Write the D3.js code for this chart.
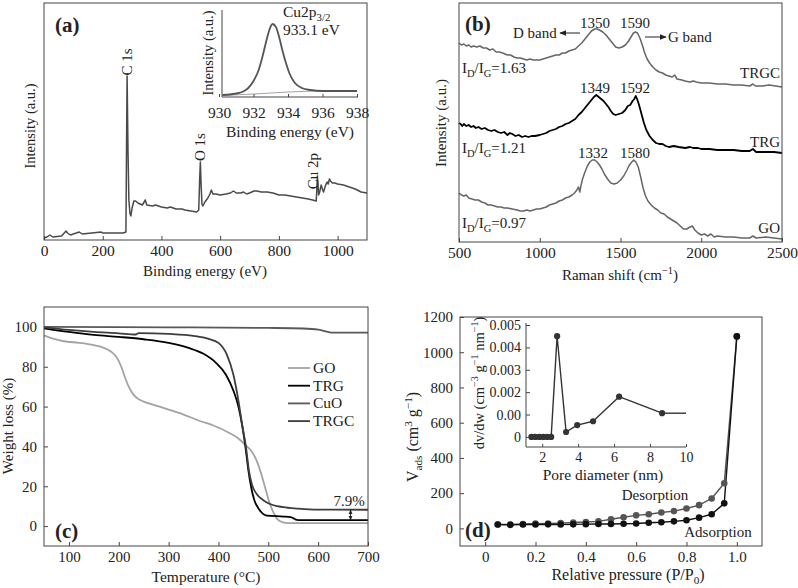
<!DOCTYPE html>
<html><head><meta charset="utf-8">
<script src="https://cdn.jsdelivr.net/npm/d3@7"></script>
<style>
body{margin:0;background:#fff}
svg text{font-family:'Liberation Serif','Times New Roman','DejaVu Serif',serif !important;fill:#222}
</style>
</head><body>
<svg id="c" width="798" height="588" font-family="'Liberation Serif','Times New Roman','DejaVu Serif',serif"></svg>
<script>
// ---------------- DATA ----------------
// (a) XPS survey: [binding energy eV, intensity a.u.]
const xpsSurvey = [[0,2],[10,3],[20,5],[30,3],[60,4],[75,9],[80,7],[90,5],[120,8],[130,6],[195,8],[200,7],[270,7],[279,8],[281,90],[283,164],[286,90],[289,40],[293,26],[296,24],[300,32],[306,39],[312,39],[320,37],[335,35],[345,40],[350,35],[370,34],[380,35],[400,33],[420,32],[430,33],[450,31],[470,31],[480,30],[500,29],[520,28],[527,30],[530,60],[532.5,78],[535,55],[538,36],[541,34],[548,38],[558,42],[565,46],[570,50],[575,46],[585,46],[600,45],[620,46],[635,47],[645,49],[655,47],[670,47],[680,48],[690,46],[700,47],[715,49],[725,49],[740,48],[760,48],[780,47],[800,45],[820,45],[840,44],[860,43],[880,42],[900,41],[915,40],[927,39],[929,50],[931,63],[933,58],[935,45],[938,47],[944,55],[948,51],[952,48],[958,54],[964,58],[968,56],[972,61],[976,59],[982,57],[990,57],[1000,56],[1020,55],[1040,53],[1060,51],[1080,48],[1100,47]];
const xpsTicks = [0,200,400,600,800,1000];
// (a) inset Cu2p3/2
const cuPeak = [[930.2,2],[930.6,2.5],[931.0,3.5],[931.4,5.5],[931.7,9],[932.0,16],[932.3,27],[932.5,39],[932.7,53],[932.9,66],[933.1,73],[933.3,70],[933.5,59],[933.7,45],[933.9,33],[934.1,23],[934.4,14],[934.8,9],[935.3,7],[936,6],[937,6],[938,6]];
const cuBackground = [[930.2,1.5],[932,3],[934,5],[935.5,6],[938,6]];
const cuTicks = [930,932,934,936,938];
// (b) Raman spectra (offset, a.u.): [Raman shift cm-1, intensity]
const ramanTRGC = [[500,199],[515,197],[530,198],[545,196],[560,197],[575,195],[590,196],[610,195],[630,196],[650,194],[670,194],[690,192],[710,193],[730,190],[750,190],[770,189],[800,187],[820,187],[840,185],[860,184],[880,184],[900,183],[920,182],[940,183],[960,182],[980,182],[1000,182],[1020,183],[1040,184],[1060,185],[1080,186],[1100,187],[1120,187],[1140,189],[1160,189],[1180,191],[1200,192],[1220,193],[1240,196],[1260,199],[1280,203],[1300,207],[1320,211],[1340,213],[1355,213],[1370,212],[1390,210],[1410,207],[1430,203],[1450,199],[1470,195],[1490,194],[1510,195],[1530,197],[1550,201],[1565,205],[1580,209],[1592,210],[1605,209],[1620,204],[1635,197],[1650,189],[1665,183],[1680,179],[1700,175],[1720,172],[1740,170],[1760,169],[1780,167],[1800,166],[1820,165],[1835,167],[1850,163],[1880,162],[1900,161],[1930,160],[1950,161],[1970,160],[2000,159],[2050,159],[2100,158],[2150,158],[2200,157],[2250,157],[2300,156],[2320,158],[2335,156],[2380,156],[2420,157],[2460,156],[2500,155]];
const ramanTRG = [[500,119],[510,118],[520,116],[530,118],[545,116],[560,117],[575,115],[590,116],[605,114],[620,115],[640,113],[660,114],[680,112],[700,111],[720,112],[740,110],[760,109],[780,110],[800,107],[815,109],[830,108],[850,106],[870,107],[890,105],[910,106],[930,105],[950,106],[970,106],[1000,107],[1020,108],[1040,109],[1060,111],[1080,112],[1100,113],[1120,115],[1140,116],[1160,118],[1180,119],[1200,121],[1220,123],[1240,127],[1260,130],[1280,134],[1300,138],[1320,142],[1335,145],[1350,147],[1365,145],[1380,143],[1395,141],[1410,138],[1425,135],[1440,131],[1455,128],[1470,127],[1490,128],[1510,129],[1530,132],[1545,136],[1560,137],[1575,141],[1585,143],[1595,146],[1605,142],[1615,137],[1630,128],[1645,119],[1660,112],[1680,106],[1700,102],[1720,99],[1740,98],[1760,98],[1780,96],[1800,95],[1830,96],[1860,95],[1900,94],[1930,95],[1950,94],[1980,94],[2000,93],[2050,93],[2100,92],[2150,92],[2200,92],[2250,91],[2300,91],[2320,93],[2340,90],[2400,90],[2450,90],[2500,89]];
const ramanGO = [[500,49],[515,47],[530,46],[545,47],[560,44],[580,43],[600,42],[620,42],[640,40],[660,39],[680,37],[700,37],[720,36],[740,35],[760,35],[780,34],[800,34],[830,33],[860,32],[880,31],[900,31],[920,32],[940,31],[960,32],[980,33],[1000,33],[1020,34],[1040,35],[1060,37],[1080,38],[1100,39],[1120,41],[1140,42],[1160,44],[1180,45],[1200,47],[1215,49],[1230,52],[1240,55],[1248,50],[1256,57],[1265,63],[1280,70],[1295,76],[1310,80],[1325,82],[1340,82],[1355,80],[1370,77],[1385,73],[1400,68],[1420,63],[1440,59],[1460,58],[1480,59],[1500,62],[1520,66],[1540,72],[1555,77],[1570,80],[1582,82],[1595,80],[1610,75],[1625,65],[1640,54],[1655,46],[1670,41],[1690,37],[1710,34],[1730,32],[1750,29],[1770,28],[1790,25],[1810,23],[1830,21],[1850,19],[1870,16],[1890,13],[1910,13],[1930,15],[1945,16],[1960,12],[1980,9],[2000,7],[2020,8],[2040,6],[2060,8],[2080,5],[2100,6],[2150,5],[2200,5],[2250,4],[2300,4],[2320,6],[2340,4],[2400,5],[2450,4],[2500,3]];
const ramanTicks = [500,1000,1500,2000,2500];
// (c) TGA: [temperature C, weight %]
const tgaGO = [[50,95.8],[70,94],[90,92.8],[120,92],[150,90.8],[170,89.5],[185,87.5],[195,85],[205,80],[212,75],[220,70],[228,66.5],[238,64],[250,62.5],[275,60.5],[300,58.5],[330,56],[360,53],[390,50.5],[420,47],[440,44],[455,40.5],[468,37],[478,32],[486,26],[494,19],[502,12],[510,7],[518,3.5],[528,2],[540,1.5],[700,1.5]];
const tgaTRG = [[50,99.3],[100,97.5],[150,96],[200,95],[250,93.8],[300,92],[340,89.5],[370,86.5],[395,82],[415,76],[430,68],[440,60],[448,50],[455,38],[460,28],[466,19],[472,13],[480,9],[490,6],[497,5.3],[530,4.8],[545,4.5],[555,3.3],[565,3],[700,3]];
const tgaCuO = [[50,100],[300,99.8],[500,99.5],[570,99.2],[600,98.6],[615,97.8],[630,97.1],[700,97.1]];
const tgaTRGC = [[50,99.8],[100,98.5],[150,97.5],[200,96.8],[234,96.2],[240,96.9],[300,96.5],[350,95.5],[380,94],[400,92],[417,86],[430,76],[440,63],[448,50],[455,40],[461,28],[467,21],[477,16],[490,13],[500,11.5],[530,9.5],[560,8.8],[600,8.3],[700,8.2]];
const tgaNames = ["GO","TRG","CuO","TRGC"];
const tgaXTicks = [100,200,300,400,500,600,700];
const tgaYTicks = [0,20,40,60,80,100];
// (d) N2 isotherm: relative pressure, adsorbed volume
const relP = [0.05,0.1,0.15,0.2,0.25,0.3,0.35,0.4,0.45,0.5,0.55,0.6,0.65,0.7,0.75,0.8,0.85,0.9,0.95,1.0];
const adsorption = [22,20,22,22,23,22,23,24,25,25,26,28,32,35,40,46,61,80,142,1090];
const desorption = [22,22,25,27,28,30,33,36,40,52,63,74,80,90,98,113,132,170,256,1090];
const isoXTicks = [0,0.2,0.4,0.6,0.8,1.0];
const isoXLabels = ["0","0.2","0.4","0.6","0.8","1.0"];
const isoYTicks = [0,200,400,600,800,1000,1200];
// (d) inset pore size distribution
const poreD = [1.4,1.62,1.84,2.06,2.28,2.5,2.83,3.33,3.95,4.83,6.28,8.67];
const poreDv = [0,0,0,0,0,0,0.0045,0.00022,0.00053,0.0007,0.0018,0.00106];
const poreTail = [[8.67,0.00106],[10,0.00106]];
const poreXTicks = [2,4,6,8,10];
const poreYTicks = [0,0.001,0.002,0.003,0.004,0.005];
const poreYLabels = ["0","0.00","0.002","0.003","0.004","0.005"];

// ---------------- HELPERS ----------------
const FONT = "'Liberation Serif','Times New Roman','DejaVu Serif',serif";
const svg = d3.select('#c');
const FR = '#444';
function frame(x, y){
  const [x0,x1]=x.range(), [y0,y1]=y.range();
  svg.append('rect').attr('x',x0).attr('y',y1).attr('width',x1-x0).attr('height',y0-y1)
    .attr('fill','none').attr('stroke',FR).attr('stroke-width',1);
}
function styleAxis(s, fs){
  s.select('.domain').remove();
  s.attr('font-family',FONT).attr('font-size',fs);
  s.selectAll('text').attr('font-size',fs).attr('fill','#222').attr('font-family',FONT);
  s.selectAll('line').attr('stroke',FR);
}
function xAxis(x, y0, ticks, fmt, fs, pad, tick){
  const a=d3.axisBottom(x).tickValues(ticks).tickFormat(fmt).tickSizeInner(tick===undefined?-4:tick).tickSizeOuter(0).tickPadding(pad);
  styleAxis(svg.append('g').attr('transform',`translate(0,${y0})`).call(a), fs);
}
function yAxis(y, x0, ticks, fmt, fs, pad){
  const a=d3.axisLeft(y).tickValues(ticks).tickFormat(fmt).tickSizeInner(-4).tickSizeOuter(0).tickPadding(pad);
  styleAxis(svg.append('g').attr('transform',`translate(${x0},0)`).call(a), fs);
}
function rich(x, y, parts, fs, anchor, rot, weight){
  const t=svg.append('text').attr('x',x).attr('y',y).attr('font-size',fs).attr('font-family',FONT).attr('text-anchor',anchor||'start');
  if(weight) t.attr('font-weight',weight);
  if(rot) t.attr('transform',`rotate(-90,${x},${y})`);
  if(typeof parts==='string') parts=[{t:parts}];
  let cur=0;
  parts.forEach(p=>{
    const target = p.sub? fs*0.28 : p.sup? -fs*0.38 : 0;
    const s=t.append('tspan').text(p.t).attr('dy',target-cur);
    if(p.sub||p.sup) s.attr('font-size',fs*0.7);
    cur=target;
  });
  return t;
}
function path(data, x, y, color, w, curve){
  svg.append('path').datum(data).attr('fill','none').attr('stroke',color).attr('stroke-width',w)
    .attr('stroke-linejoin','round')
    .attr('d', d3.line().x(d=>x(d[0])).y(d=>y(d[1])).curve(curve||d3.curveLinear));
}
svg.append('defs').html(`<marker id="ah" viewBox="0 0 10 10" refX="9" refY="5" markerWidth="7" markerHeight="7" orient="auto-start-reverse"><path d="M0,1 L10,5 L0,9 z" fill="#222"/></marker>
<marker id="ah2" viewBox="0 0 10 10" refX="9" refY="5" markerWidth="5" markerHeight="5" orient="auto-start-reverse"><path d="M0,1 L10,5 L0,9 z" fill="#222"/></marker>`);

// ---------------- PANEL A ----------------
{
  const x=d3.scaleLinear().domain([0,1100]).range([44,367]);
  const y=d3.scaleLinear().domain([0,237]).range([240,3]);
  path(xpsSurvey,x,y,'#4a4a4a',1.5);
  frame(x,y);
  xAxis(x,240,xpsTicks,d=>d,15.5,5);
  rich(205,276,'Binding energy (eV)',15,'middle');
  rich(35,126,'Intensity (a.u.)',14.5,'middle',true);
  rich(55,32,'(a)',21,'start',false,'bold');
  rich(132,62,'C 1s',15,'middle',true);
  rich(205,147,'O 1s',15,'middle',true);
  rich(318,171,'Cu 2p',15,'middle',true);
  // inset
  const xi=d3.scaleLinear().domain([930,938]).range([219,357]);
  const yi=d3.scaleLinear().domain([0,87]).range([97,10]);
  path(cuBackground,xi,yi,'#999',0.9);
  path(cuPeak,xi,yi,'#555',1.8,d3.curveMonotoneX);
  svg.append('line').attr('x1',222).attr('x2',222).attr('y1',10).attr('y2',97).attr('stroke',FR);
  svg.append('line').attr('x1',222).attr('x2',358).attr('y1',97).attr('y2',97).attr('stroke',FR);
  xAxis(xi,97,cuTicks,d=>d,15.5,10,-3);
  rich(290,137,'Binding energy (eV)',15.5,'middle');
  rich(213,53,'Intensity (a.u.)',14.5,'middle',true);
  rich(283,17,[{t:'Cu2p'},{t:'3/2',sub:true}],15.5,'start');
  rich(283,35,'933.1 eV',15.5,'start');
}

// ---------------- PANEL B ----------------
{
  const x=d3.scaleLinear().domain([500,2500]).range([459,782]);
  const y=d3.scaleLinear().domain([0,239]).range([242,3]);
  path(ramanGO,x,y,'#666',1.5);
  path(ramanTRG,x,y,'#000',1.8);
  path(ramanTRGC,x,y,'#666',1.5);
  frame(x,y);
  xAxis(x,242,ramanTicks,d=>d,15.5,5);
  rich(620,280,[{t:'Raman shift (cm'},{t:'−1',sup:true},{t:')'}],15,'middle');
  rich(446,123,'Intensity (a.u.)',15,'middle',true);
  rich(465,31,'(b)',21,'start',false,'bold');
  rich(595,28,'1350',15,'middle');
  rich(635,28,'1590',15,'middle');
  rich(513,38,'D band',15,'start');
  svg.append('line').attr('x1',580).attr('x2',560).attr('y1',33).attr('y2',33).attr('stroke','#222').attr('stroke-width',1).attr('marker-end','url(#ah)');
  svg.append('line').attr('x1',645).attr('x2',666).attr('y1',37).attr('y2',37).attr('stroke','#222').attr('stroke-width',1).attr('marker-end','url(#ah)');
  rich(668,42,'G band',15,'start');
  rich(462,73,[{t:'I'},{t:'D',sub:true},{t:'/I'},{t:'G',sub:true},{t:'=1.63'}],15,'start');
  rich(780,78,'TRGC',15,'end');
  rich(595,93,'1349',15,'middle');
  rich(635,93,'1592',15,'middle');
  rich(462,153,[{t:'I'},{t:'D',sub:true},{t:'/I'},{t:'G',sub:true},{t:'=1.21'}],15,'start');
  rich(780,147,'TRG',15,'end');
  rich(593,158,'1332',15,'middle');
  rich(635,158,'1580',15,'middle');
  rich(462,228,[{t:'I'},{t:'D',sub:true},{t:'/I'},{t:'G',sub:true},{t:'=0.97'}],15,'start');
  rich(780,233,'GO',15,'end');
}

// ---------------- PANEL C ----------------
{
  const x=d3.scaleLinear().domain([50,700]).range([44,368]);
  const y=d3.scaleLinear().domain([-10,110]).range([546,307]);
  const cols={GO:'#a3a3a3',TRG:'#000',CuO:'#595959',TRGC:'#3d3d3d'};
  const sets={GO:tgaGO,TRG:tgaTRG,CuO:tgaCuO,TRGC:tgaTRGC};
  ['CuO','GO','TRG','TRGC'].forEach(k=>path(sets[k],x,y,cols[k],1.8,d3.curveMonotoneX));
  frame(x,y);
  xAxis(x,546,tgaXTicks,d=>d,15,5);
  yAxis(y,44,tgaYTicks,d=>d,15,7);
  rich(206,582,'Temperature (°C)',15.5,'middle');
  rich(13,426,'Weight loss (%)',15,'middle',true);
  rich(55,538,'(c)',21,'start',false,'bold');
  tgaNames.forEach((k,i)=>{
    const yy=368+i*17.7;
    svg.append('line').attr('x1',288).attr('x2',310).attr('y1',yy).attr('y2',yy).attr('stroke',cols[k]).attr('stroke-width',1.8);
    rich(313,yy+5,k,15.5,'start');
  });
  rich(349,506,'7.9%',15,'middle');
  svg.append('line').attr('x1',x(665)).attr('x2',x(665)).attr('y1',y(5.5)).attr('y2',y(8.2)).attr('stroke','#222').attr('marker-end','url(#ah2)');
  svg.append('line').attr('x1',x(665)).attr('x2',x(665)).attr('y1',y(5.5)).attr('y2',y(3)).attr('stroke','#222').attr('marker-end','url(#ah2)');
}

// ---------------- PANEL D ----------------
{
  const x=d3.scaleLinear().domain([-0.1,1.1]).range([460,762]);
  const y=d3.scaleLinear().domain([-100,1200]).range([546,317]);
  const ads=relP.map((p,i)=>[p,adsorption[i]]);
  const des=relP.map((p,i)=>[p,desorption[i]]);
  path(des,x,y,'#555',1.4);
  path(ads,x,y,'#111',1.4);
  svg.append('g').selectAll('circle').data(des).join('circle').attr('cx',d=>x(d[0])).attr('cy',d=>y(d[1])).attr('r',3.3).attr('fill','#555');
  svg.append('g').selectAll('circle').data(ads).join('circle').attr('cx',d=>x(d[0])).attr('cy',d=>y(d[1])).attr('r',3.3).attr('fill','#111');
  frame(x,y);
  xAxis(x,546,isoXTicks,(d,i)=>isoXLabels[i],15,5);
  yAxis(y,460,isoYTicks,d=>d,15,7);
  rich(628,580,[{t:'Relative pressure (P/P'},{t:'0',sub:true},{t:')'}],16,'middle');
  rich(418,437,[{t:'V'},{t:'ads',sub:true},{t:' (cm'},{t:'3',sup:true},{t:' g'},{t:'−1',sup:true},{t:')'}],16,'middle',true);
  rich(465,537,'(d)',21,'start',false,'bold');
  rich(655,500,'Desorption',15,'middle');
  rich(718,537,'Adsorption',15,'middle');
  // inset
  const xi=d3.scaleLinear().domain([1.1,10]).range([526,686]);
  const yi=d3.scaleLinear().domain([-0.00045,0.00509]).range([447,323]);
  const pts=poreD.map((p,i)=>[p,poreDv[i]]);
  path(pts,xi,yi,'#333',1.4);
  path(poreTail,xi,yi,'#333',1.4);
  svg.append('g').selectAll('circle').data(pts).join('circle').attr('cx',d=>xi(d[0])).attr('cy',d=>yi(d[1])).attr('r',3.1).attr('fill','#333');
  svg.append('line').attr('x1',526).attr('x2',526).attr('y1',323).attr('y2',447).attr('stroke',FR);
  svg.append('line').attr('x1',526).attr('x2',686).attr('y1',447).attr('y2',447).attr('stroke',FR);
  xAxis(xi,447,poreXTicks,d=>d,14,5,-3);
  yAxis(yi,526,poreYTicks,(d,i)=>poreYLabels[i],14,5);
  rich(603,480,'Pore diameter (nm)',15.5,'middle');
  rich(484,383,[{t:'dv/dw (cm'},{t:'−3',sup:true},{t:' g'},{t:'−1',sup:true},{t:' nm'},{t:'−1',sup:true},{t:')'}],14.5,'middle',true);
}
</script>
</body></html>
